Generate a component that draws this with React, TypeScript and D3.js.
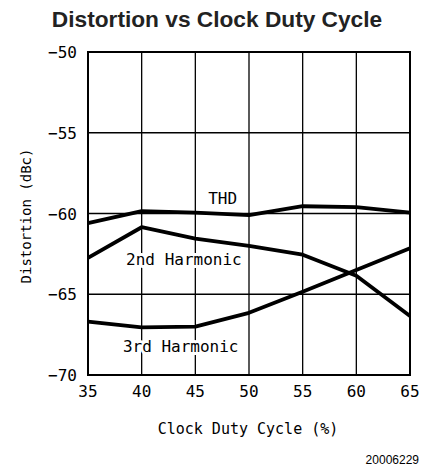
import React from "react";
import * as d3 from "d3";

// duty cycle (%) on x, distortion (dBc) on y
const dutyCycle = [35, 40, 45, 50, 55, 60, 65];
const thd = [-60.6, -59.85, -59.95, -60.1, -59.55, -59.6, -59.95];
const secondHarmonic = [-62.75, -60.85, -61.55, -62.0, -62.55, -63.85, -66.35];
const thirdHarmonic = [-66.7, -67.05, -67.0, -66.15, -64.85, -63.5, -62.15];

const xTicks = [35, 40, 45, 50, 55, 60, 65];
const yTicks = [-50, -55, -60, -65, -70];

const seriesLabels = [
  { text: "THD", at: [46.2, -59.41] },
  { text: "2nd Harmonic", at: [38.55, -63.19] },
  { text: "3rd Harmonic", at: [38.25, -68.55] },
];

const mono = "'DejaVu Sans Mono', monospace";

function App() {
  const width = 425;
  const height = 471;
  const margin = { top: 52, right: 15, bottom: 96, left: 88 };

  const x = d3
    .scaleLinear()
    .domain([35, 65])
    .range([margin.left, width - margin.right]);
  const y = d3
    .scaleLinear()
    .domain([-70, -50])
    .range([height - margin.bottom, margin.top]);

  const line = d3
    .line<number>()
    .x((d, i) => x(dutyCycle[i]))
    .y((d) => y(d));

  const series = [thd, secondHarmonic, thirdHarmonic];

  return (
    <svg
      width={width}
      height={height}
      style={{ position: "absolute", left: 0, top: 0, background: "#fff" }}
    >
      <text
        x={217}
        y={27}
        textAnchor="middle"
        fontFamily="'Liberation Sans', Arial, sans-serif"
        fontWeight="bold"
        fontSize={22.7}
        fill="#222"
      >
        Distortion vs Clock Duty Cycle
      </text>

      {/* grid */}
      <g stroke="#000" strokeWidth={1.3}>
        {xTicks.slice(1, -1).map((t) => (
          <line key={t} x1={x(t)} x2={x(t)} y1={y(-50)} y2={y(-70)} />
        ))}
        {yTicks.slice(1, -1).map((t) => (
          <line key={t} x1={x(35)} x2={x(65)} y1={y(t)} y2={y(t)} />
        ))}
      </g>
      <rect
        x={x(35)}
        y={y(-50)}
        width={x(65) - x(35)}
        height={y(-70) - y(-50)}
        fill="none"
        stroke="#000"
        strokeWidth={2}
      />

      {/* tick labels */}
      <g fontFamily={mono} fontSize={16} fill="#000">
        {yTicks.map((t) => (
          <text key={t} x={x(35) - 11} y={y(t) + 6} textAnchor="end">
            {"\u2212" + Math.abs(t)}
          </text>
        ))}
        {xTicks.map((t) => (
          <text key={t} x={x(t)} y={397} textAnchor="middle">
            {t}
          </text>
        ))}
      </g>

      <text
        x={248}
        y={434}
        textAnchor="middle"
        fontFamily={mono}
        fontSize={15}
        fill="#000"
      >
        Clock Duty Cycle (%)
      </text>
      <text
        transform="translate(31,216) rotate(-90)"
        textAnchor="middle"
        fontFamily={mono}
        fontSize={14}
        fill="#000"
      >
        Distortion (dBc)
      </text>

      {/* series labels with white halo over the grid */}
      <g fontFamily={mono} fontSize={16} fill="#000">
        {seriesLabels.map((l) => (
          <text
            key={l.text}
            x={x(l.at[0])}
            y={y(l.at[1])}
            stroke="#fff"
            strokeWidth={6}
            paintOrder="stroke"
            strokeLinejoin="round"
          >
            {l.text}
          </text>
        ))}
      </g>

      <g fill="none" stroke="#000" strokeWidth={3.8} strokeLinejoin="round">
        {series.map((s, i) => (
          <path key={i} d={line(s) || ""} />
        ))}
      </g>

      <text
        x={419}
        y={464}
        textAnchor="end"
        fontFamily="'Liberation Sans', Arial, sans-serif"
        fontSize={12}
        fill="#000"
      >
        20006229
      </text>
    </svg>
  );
}

export default App;
